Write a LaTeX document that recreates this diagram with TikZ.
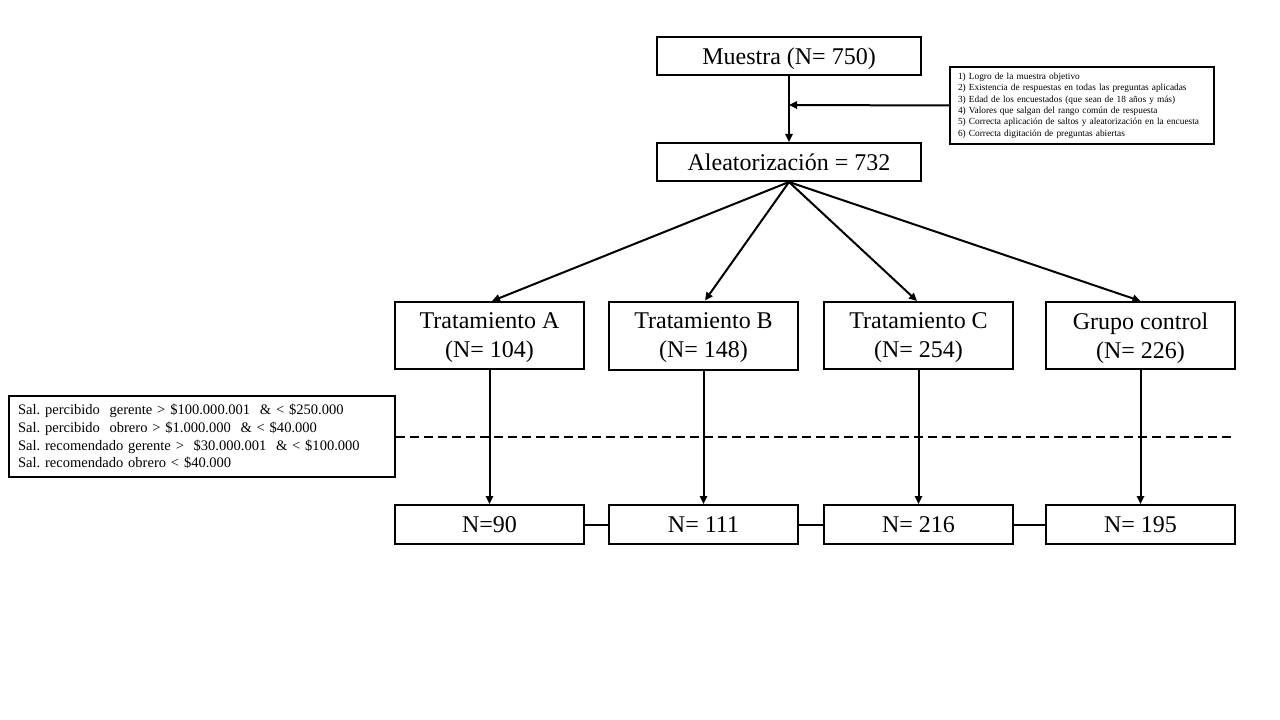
\documentclass[tikz,border=0pt]{standalone}
\usepackage{fontspec}
\setmainfont{Liberation Serif}
\usetikzlibrary{arrows.meta}
\tikzset{
  box/.style={draw, line width=1.5pt, inner sep=0pt, align=center,
    font=\fontsize{18}{21.75}\selectfont},
  topbox/.style={box, minimum width=198pt, minimum height=28.5pt},
  treat/.style={box, minimum width=141.75pt, minimum height=50.25pt, text depth=0pt},
  res/.style={box, minimum width=141.75pt, minimum height=29.25pt},
  note/.style={draw, line width=1.5pt, align=left, inner ysep=0pt},
  arr/.style={line width=1.5pt, -{Triangle[length=6pt,width=5.5pt]}},
  link/.style={line width=1.5pt},
}
\begin{document}
\frenchspacing
\begin{tikzpicture}[x=0.75pt,y=-0.75pt]
\useasboundingbox (0,0) rectangle (1280,720);
\node[topbox, text depth=0pt] (m) at (789,56) {Muestra (N= 750)};
\node[topbox] (al) at (789,162) {Aleatorización = 732};
\node[note, text width=186pt, inner xsep=6pt, minimum height=57.75pt,
  font=\fontsize{7}{8.5}\selectfont] (crit) at (1082,105.5)
  {1) Logro de la muestra objetivo\\
   2)\ Existencia de respuestas en todas las preguntas aplicadas\\
   3)\ Edad de los encuestados (que sean de 18 años y más)\\
   4)\ Valores que salgan del rango común de respuesta\\
   5)\ Correcta aplicación de saltos y aleatorización en la encuesta\\
   6) Correcta digitación de preguntas abiertas};
\coordinate (j) at (789,105);

\node[treat] (tA) at (489.5,335.5) {Tratamiento A\\(N= 104)};
\node[treat, minimum height=51pt] (tB) at (703.5,335.5) {Tratamiento B\\(N= 148)};
\node[treat] (tC) at (918.5,335.5) {Tratamiento C\\(N= 254)};
\node[treat] (tG) at (1140.5,335.5) {Grupo control\\(N= 226)};

\node[res] (rA) at (489.5,524.5) {N=90};
\node[res] (rB) at (703.5,524.5) {N= 111};
\node[res] (rC) at (918.5,524.5) {N= 216};
\node[res] (rG) at (1140.5,524.5) {N= 195};

\node[note, text width=276pt, inner xsep=6.75pt, minimum height=60.75pt,
  font=\fontsize{10.9}{13.3}\selectfont] (sal) at (202,436.5)
  {Sal. percibido\ \ gerente > \$100.000.001\ \ \& < \$250.000\\
   Sal. percibido\ \ obrero > \$1.000.000\ \ \& < \$40.000\\
   Sal. recomendado gerente >\ \ \$30.000.001\ \ \& < \$100.000\\
   Sal. recomendado obrero < \$40.000};
\coordinate (dend) at (1236,436.5);

\draw[arr] (m.south) -- (al.north);
\draw[arr] (crit.west) -- (j);

\draw[arr] (al.south) -- ([xshift=2.5*0.75pt]tA.north);
\draw[arr] (al.south) -- ([xshift=1.5*0.75pt]tB.north);
\draw[arr] (al.south) -- ([xshift=-1.5*0.75pt]tC.north);
\draw[arr] (al.south) -- (tG.north);

\draw[line width=1.5pt, dash pattern=on 6.75pt off 3.75pt] (sal.east) -- (dend);

\draw[arr] (tA.south) -- (rA.north);
\draw[arr] (tB.south) -- (rB.north);
\draw[arr] (tC.south) -- (rC.north);
\draw[arr] (tG.south) -- (rG.north);

\draw[link] (rA.east) -- (rB.west);
\draw[link] (rB.east) -- (rC.west);
\draw[link] (rC.east) -- (rG.west);
\end{tikzpicture}
\end{document}
